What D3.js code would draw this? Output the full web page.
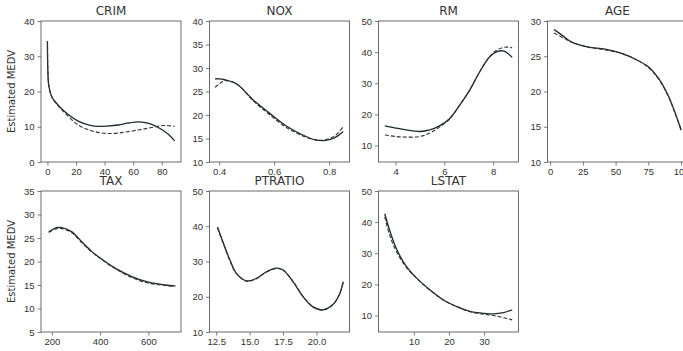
<!DOCTYPE html>
<html>
<head>
<meta charset="utf-8">
<script src="https://cdn.jsdelivr.net/npm/d3@7"></script>
<style>
  html, body { margin: 0; padding: 0; background: #fff; overflow: hidden; }
  svg { display: block; font-family: "DejaVu Sans", sans-serif; }
</style>
</head>
<body>
<div id="chart"></div>
<script>
// partial dependence curves: solid = fitted, dashed = reference
const crimX = [0, 0.3, 1, 3, 6, 12, 21.5, 30, 35.5, 42, 49.6, 56, 63.6, 68, 73, 80, 85, 89];
const crimSolid = [34.3, 26, 21.5, 18.5, 16.8, 14.3, 11.6, 10.4, 10.1, 10.2, 10.5, 11.0, 11.4, 11.2, 10.7, 9.2, 7.7, 6.0];
const crimDashed = [34.3, 26, 21.5, 18.5, 16.7, 14.0, 10.5, 9.0, 8.4, 8.1, 8.2, 8.6, 9.1, 9.4, 9.8, 10.3, 10.3, 10.1];

const noxX = [0.385, 0.40, 0.42, 0.464, 0.524, 0.583, 0.643, 0.702, 0.75, 0.786, 0.821, 0.851];
const noxSolid = [27.7, 27.7, 27.5, 26.6, 23.2, 20.4, 17.7, 15.8, 14.7, 14.6, 15.2, 16.5];
const noxDashed = [25.9, 26.6, 27.3, 26.6, 23.0, 20.1, 17.4, 15.6, 14.7, 14.7, 15.6, 17.5];

const rmX = [3.56, 4.0, 4.44, 5.0, 5.4, 5.8, 6.22, 6.63, 7.04, 7.45, 7.86, 8.14, 8.41, 8.62, 8.78];
const rmSolid = [16.3, 15.6, 15.0, 14.5, 15.0, 16.3, 18.7, 23.0, 27.8, 33.7, 38.5, 40.1, 40.4, 39.5, 38.3];
const rmDashed = [13.4, 12.9, 12.7, 12.9, 14.0, 15.9, 18.5, 23.0, 27.8, 33.7, 38.6, 40.6, 41.5, 41.6, 41.4];

const ageX = [2.9, 9, 16.5, 29, 42, 54.7, 67, 75, 82.7, 90, 95, 100];
const ageSolid = [28.8, 28.0, 27.0, 26.3, 26.0, 25.4, 24.4, 23.5, 21.9, 19.5, 17.2, 14.5];
const ageDashed = [28.3, 27.7, 27.0, 26.3, 25.9, 25.4, 24.4, 23.4, 21.8, 19.4, 17.1, 14.7];

const taxX = [187, 220, 241, 283, 324, 366, 407, 462, 531, 600, 669, 711];
const taxSolid = [26.3, 27.2, 27.2, 26.3, 24.2, 22.1, 20.5, 18.6, 16.8, 15.6, 15.0, 14.8];
const taxDashed = [26.2, 27.0, 27.0, 26.1, 24.0, 22.0, 20.4, 18.5, 16.6, 15.4, 14.9, 14.7];

const ptratioX = [12.6, 13.0, 13.53, 14.0, 14.77, 15.5, 16.26, 17.0, 17.5, 18.24, 18.98, 19.7, 20.46, 21.2, 21.7, 22.0];
const ptratioSolid = [39.8, 35.6, 30.4, 26.7, 24.5, 25.2, 27.1, 28.1, 27.6, 24.3, 20.1, 17.2, 16.3, 17.7, 20.5, 24.3];
const ptratioDashed = [39.5, 35.4, 30.2, 26.6, 24.4, 25.1, 27.0, 28.0, 27.6, 24.4, 20.2, 17.3, 16.2, 17.6, 20.6, 24.0];

const lstatX = [1.7, 3.1, 5.0, 7.9, 10.8, 14.6, 18.4, 22.2, 26.0, 29.8, 32.7, 35.5, 38.0];
const lstatSolid = [42.7, 37.4, 31.5, 25.7, 22.0, 18.2, 15.0, 12.9, 11.3, 10.7, 10.5, 10.9, 11.8];
const lstatDashed = [41.7, 35.8, 30.6, 25.4, 21.9, 18.1, 15.0, 12.8, 11.2, 10.4, 10.0, 9.3, 8.6];

// axis limits and tick labels
const panels = [
  {name: "CRIM", x: crimX, solid: crimSolid, dashed: crimDashed, xDomain: [-4.5, 93.5], yDomain: [0, 40],
    xTicks: [0, 20, 40, 60, 80], yTicks: [0, 10, 20, 30, 40], xFmt: d3.format("d")},
  {name: "NOX", x: noxX, solid: noxSolid, dashed: noxDashed, xDomain: [0.365, 0.874], yDomain: [10, 40],
    xTicks: [0.4, 0.6, 0.8], yTicks: [10, 15, 20, 25, 30, 35, 40], xFmt: d3.format(".1f")},
  {name: "RM", x: rmX, solid: rmSolid, dashed: rmDashed, xDomain: [3.3, 9.04], yDomain: [4.7, 50],
    xTicks: [4, 6, 8], yTicks: [10, 20, 30, 40, 50], xFmt: d3.format("d")},
  {name: "AGE", x: ageX, solid: ageSolid, dashed: ageDashed, xDomain: [-2, 104.9], yDomain: [10, 30],
    xTicks: [0, 25, 50, 75, 100], yTicks: [10, 15, 20, 25, 30], xFmt: d3.format("d")},
  {name: "TAX", x: taxX, solid: taxSolid, dashed: taxDashed, xDomain: [155, 735], yDomain: [5, 35],
    xTicks: [200, 400, 600], yTicks: [5, 10, 15, 20, 25, 30, 35], xFmt: d3.format("d")},
  {name: "PTRATIO", x: ptratioX, solid: ptratioSolid, dashed: ptratioDashed, xDomain: [12.0, 22.47], yDomain: [10, 50],
    xTicks: [12.5, 15, 17.5, 20], yTicks: [10, 20, 30, 40, 50], xFmt: d3.format(".1f")},
  {name: "LSTAT", x: lstatX, solid: lstatSolid, dashed: lstatDashed, xDomain: [-0.08, 39.8], yDomain: [4.7, 50],
    xTicks: [10, 20, 30], yTicks: [10, 20, 30, 40, 50], xFmt: d3.format("d")}
];

const W = 683, H = 351;
const colLeft = [41, 209.5, 378.5, 547.5];
const rowTop = [21, 191];
const pw = 140, ph = 141;
const frameColor = "#5a5a5a";
const textColor = "#333";

const svg = d3.select("#chart").append("svg")
  .attr("width", W)
  .attr("height", H);

panels.forEach((p, i) => {
  const col = i % 4, row = Math.floor(i / 4);
  const g = svg.append("g")
    .attr("transform", "translate(" + colLeft[col] + "," + rowTop[row] + ")");

  const x = d3.scaleLinear().domain(p.xDomain).range([0, pw]);
  const y = d3.scaleLinear().domain(p.yDomain).range([ph, 0]);

  const xAxis = g.append("g")
    .attr("transform", "translate(0," + ph + ")")
    .call(d3.axisBottom(x).tickValues(p.xTicks).tickFormat(p.xFmt).tickSize(3.5).tickPadding(3));
  const yAxis = g.append("g")
    .call(d3.axisLeft(y).tickValues(p.yTicks).tickFormat(d3.format("d")).tickSize(3.5).tickPadding(3));

  [xAxis, yAxis].forEach(a => {
    a.select(".domain").remove();
    a.selectAll("line").attr("stroke", frameColor).attr("stroke-width", 0.8);
    a.selectAll("text").attr("fill", textColor).style("font-size", "9.5px");
  });

  const pts = p.x.map((v, j) => ({x: v, s: p.solid[j], d: p.dashed[j]}));

  const clipId = "clip" + i;
  g.append("clipPath").attr("id", clipId)
    .append("rect").attr("width", pw).attr("height", ph);

  const lines = g.append("g").attr("clip-path", "url(#" + clipId + ")");
  const curve = d3.curveCatmullRom.alpha(0.5);

  lines.append("path")
    .datum(pts)
    .attr("d", d3.line().x(d => x(d.x)).y(d => y(d.s)).curve(curve))
    .attr("fill", "none")
    .attr("stroke", "#1b2a33")
    .attr("stroke-width", 1.3);

  lines.append("path")
    .datum(pts)
    .attr("d", d3.line().x(d => x(d.x)).y(d => y(d.d)).curve(curve))
    .attr("fill", "none")
    .attr("stroke", "#333")
    .attr("stroke-width", 1.1)
    .attr("stroke-dasharray", "4,2");

  // frame
  g.append("rect")
    .attr("width", pw)
    .attr("height", ph)
    .attr("fill", "none")
    .attr("stroke", frameColor)
    .attr("stroke-width", 0.9);

  g.append("text")
    .attr("x", pw / 2)
    .attr("y", -6)
    .attr("text-anchor", "middle")
    .attr("fill", textColor)
    .style("font-size", "12px")
    .text(p.name);

  if (col === 0) {
    g.append("text")
      .attr("transform", "translate(-26," + (ph / 2) + ") rotate(-90)")
      .attr("text-anchor", "middle")
      .attr("fill", textColor)
      .style("font-size", "10px")
      .text("Estimated MEDV");
  }
});
</script>
</body>
</html>
